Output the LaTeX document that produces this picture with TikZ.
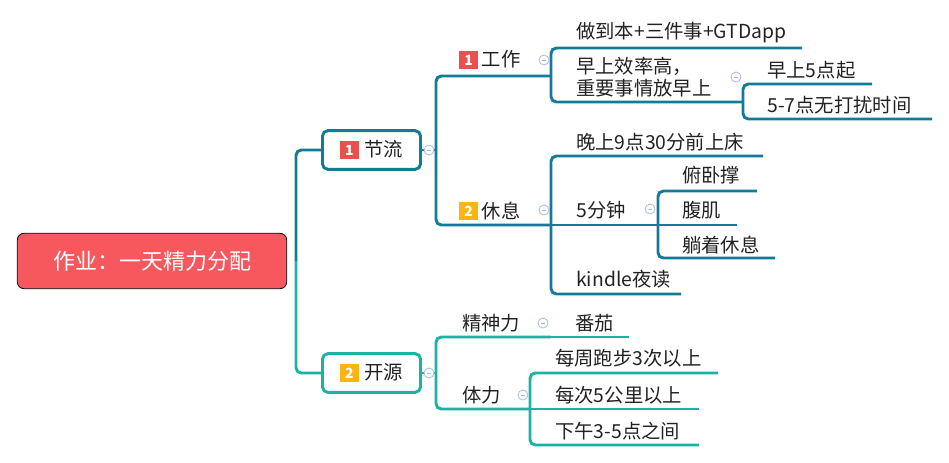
\documentclass[tikz,border=0pt]{standalone}
\usepackage{fontspec}
\setmainfont{Noto Sans CJK SC}
\usepackage{tikz}
\usetikzlibrary{positioning}
\usepackage{xcolor}

\definecolor{tealc}{HTML}{137B97}
\definecolor{greenc}{HTML}{1BB3A1}
\definecolor{rootred}{HTML}{F6585E}
\definecolor{tagred}{HTML}{E9504E}
\definecolor{tagorange}{HTML}{FCB415}
\definecolor{foldc}{HTML}{A8BCE6}
\definecolor{textc}{HTML}{222222}

\newcommand\itemfont{\fontsize{14.5pt}{16.5pt}\selectfont}
\newcommand\numtag[2]{\raisebox{1.6pt}{\setlength\fboxsep{0pt}\colorbox{#1}{\parbox[c][14pt][c]{14pt}{\centering\color{white}\fontsize{10.5pt}{12pt}\selectfont\bfseries #2}}}}

\begin{document}
\begin{tikzpicture}[x=0.75pt, y=-0.75pt,
    rootbox/.style = {draw=black, line width=0.6pt, fill=rootred, rounded corners=5pt,
                      minimum width=202pt, minimum height=41.5pt, text=white,
                      font=\fontsize{16.5pt}{20pt}\selectfont},
    mainbox/.style = {draw=#1, line width=2.2pt, fill=white, rounded corners=4pt,
                      minimum width=73.5pt, minimum height=29pt, text=textc, font=\itemfont},
    item/.style    = {anchor=west, inner sep=0pt, text=textc, font=\itemfont},
    tline/.style   = {draw=tealc, line width=2.2pt, rounded corners=4pt},
    gline/.style   = {draw=greenc, line width=2.2pt, rounded corners=4pt},
    fold/.style    = {circle, draw=foldc, fill=white, line width=0.6pt, minimum size=7.5pt, inner sep=0pt,
                      path picture={\draw[foldc, line width=0.6pt]
                        ([xshift=2pt]path picture bounding box.west) -- ([xshift=-2pt]path picture bounding box.east);}}
  ]
  \useasboundingbox (0,0) rectangle (949,462);

  % root and the two main topics
  \node[rootbox] (root) at (152,261) {作业：一天精力分配};
  \node[mainbox=tealc]  (jl) at (371.5,150) {\numtag{tagred}{1}\hspace{4pt}节流};
  \node[mainbox=greenc] (ky) at (371.5,373) {\numtag{tagorange}{2}\hspace{4pt}开源};

  % junctions and underline ends
  \coordinate (hub)  at (296,261);
  \coordinate (jlj)  at (436,150);
  \coordinate (kyj)  at (436,373);
  \coordinate (gzj)  at (551,76);
  \coordinate (xxj)  at (551,225);
  \coordinate (zde)  at (802,48);
  \coordinate (zsj)  at (743,102);
  \coordinate (z5e)  at (872,84);
  \coordinate (z57e) at (932,119);
  \coordinate (wse)  at (763,156);
  \coordinate (fzj)  at (658,225);
  \coordinate (fwe)  at (757,191);
  \coordinate (fje)  at (737,225);
  \coordinate (tze)  at (775,258);
  \coordinate (kde)  at (681,294);
  \coordinate (sjj)  at (551,337);
  \coordinate (fqe)  at (629,337);
  \coordinate (tlj)  at (530,409);
  \coordinate (mze)  at (718,373);
  \coordinate (mce)  at (699,409);
  \coordinate (xwe)  at (699,445);

  % branches of 节流
  \draw[tline] (hub) |- (jl.west);
  \draw[tline] (jl.east) -- (jlj);
  \draw[tline] (jlj) |- (gzj);
  \draw[tline] (jlj) |- (xxj);
  \draw[tline] (gzj) |- (zde);
  \draw[tline] (gzj) |- (zsj);
  \draw[tline] (zsj) |- (z5e);
  \draw[tline] (zsj) |- (z57e);
  \draw[tline] (xxj) |- (wse);
  \draw[tline] (xxj) -- (fzj);
  \draw[tline] (xxj) |- (kde);
  \draw[tline] (fzj) |- (fwe);
  \draw[tline] (fzj) -- (fje);
  \draw[tline] (fzj) |- (tze);

  % branches of 开源
  \draw[gline] (hub) |- (ky.west);
  \draw[gline] (ky.east) -- (kyj);
  \draw[gline] (kyj) |- (sjj);
  \draw[gline] (sjj) -- (fqe);
  \draw[gline] (kyj) |- (tlj);
  \draw[gline] (tlj) |- (mze);
  \draw[gline] (tlj) -- (mce);
  \draw[gline] (tlj) |- (xwe);

  % fold markers
  \node[fold] (f1) at (429,150) {};
  \node[fold] (f2) at (429,373) {};
  \node[fold] (f3) at (544,60)  {};
  \node[fold] (f4) at (544,210) {};
  \node[fold] (f5) at (736,77)  {};
  \node[fold] (f6) at (650,209) {};
  \node[fold] (f7) at (543,323) {};
  \node[fold] (f8) at (523,395) {};

  % topic texts
  \node[item] (gz) at (459,60)  {\numtag{tagred}{1}\hspace{3pt}工作};
  \node[item] (xx) at (459,211) {\numtag{tagorange}{2}\hspace{3pt}休息};
  \node[item] (zd) at (576,33)  {做到本+三件事+GTDapp};
  \node[item, align=left] (zs) at (576,77) {早上效率高，\\重要事情放早上};
  \node[item] (z5)  at (767,70)  {早上5点起};
  \node[item] (z57) at (767,105) {5-7点无打扰时间};
  \node[item] (ws)  at (576,142) {晚上9点30分前上床};
  \node[item] (fz)  at (576,210) {5分钟};
  \node[item] (fw)  at (682,175) {俯卧撑};
  \node[item] (fj)  at (682,210) {腹肌};
  \node[item] (tz)  at (682,245) {躺着休息};
  \node[item] (kd)  at (576,279) {kindle夜读};
  \node[item] (sj)  at (462,323) {精神力};
  \node[item] (fq)  at (575,323) {番茄};
  \node[item] (tl)  at (462,395) {体力};
  \node[item] (mz)  at (555,358) {每周跑步3次以上};
  \node[item] (mc)  at (555,395) {每次5公里以上};
  \node[item] (xw)  at (555,431) {下午3-5点之间};
\end{tikzpicture}
\end{document}
